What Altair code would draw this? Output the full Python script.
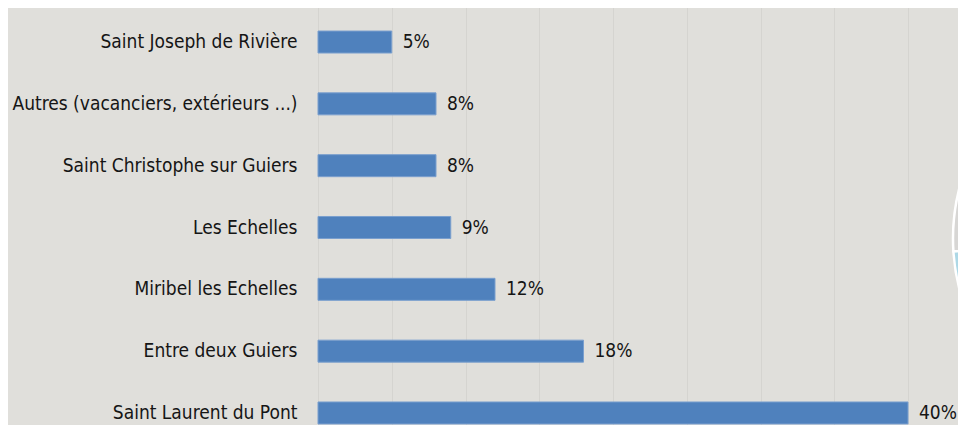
import altair as alt
import pandas as pd

communes = [
    "Saint Joseph de Rivière",
    "Autres (vacanciers, extérieurs ...)",
    "Saint Christophe sur Guiers",
    "Les Echelles",
    "Miribel les Echelles",
    "Entre deux Guiers",
    "Saint Laurent du Pont",
]
parts = [5, 8, 8, 9, 12, 18, 40]

pie_parts = ["A", "B"]
pie_values = [74, 26]
pie_colors = ["#add8e6", "#d7d6d4"]

df = pd.DataFrame({"commune": communes, "part": parts})
df["label"] = [f"{v}%" for v in parts]
pie_df = pd.DataFrame({"k": pie_parts, "v": pie_values})

FONT = "DejaVu Sans Condensed"
FS = 19
W, H = 640, 415

x = alt.X("part:Q",
          scale=alt.Scale(domain=[0, W / 14.75], nice=False, zero=True),
          axis=alt.Axis(values=[0, 5, 10, 15, 20, 25, 30, 35, 40], labels=False,
                        ticks=False, domain=False, title=None,
                        grid=True, gridColor="#d5d4d0", gridWidth=1))
y = alt.Y("commune:N", sort=communes,
          scale=alt.Scale(range=[0, 435], paddingInner=0.644, paddingOuter=0.34),
          axis=alt.Axis(title=None, ticks=False, domain=False, labelPadding=21,
                        labelLimit=500, labelFontSize=FS, labelFont=FONT,
                        labelColor="#151515"))

bars = alt.Chart(df).mark_bar(color="#4f81bd", stroke="#7a9fce", strokeWidth=1).encode(x=x, y=y)
texts = alt.Chart(df).mark_text(align="left", baseline="middle", dx=11, fontSize=FS,
                                font=FONT, color="#151515").encode(
    x="part:Q", y=alt.Y("commune:N", sort=communes), text="label:N")

pie = alt.Chart(pie_df).mark_arc(radius=203, stroke="white", strokeWidth=2.5).encode(
    theta=alt.Theta("v:Q", stack=True),
    color=alt.Color("k:N", scale=alt.Scale(domain=pie_parts, range=pie_colors), legend=None),
    order=alt.Order("k:N"),
    x=alt.value(838), y=alt.value(228.5))

chart = alt.layer(bars, texts, pie).properties(
    width=W, height=H,
    autosize=alt.AutoSizeParams(type="none"),
    padding={"left": 310, "top": 2, "right": 0, "bottom": 0},
    background="#e0dfdb",
).resolve_scale(color="independent").configure_view(stroke=None)

chart.save("out.html", embed_options={"renderer": "svg", "actions": False})
